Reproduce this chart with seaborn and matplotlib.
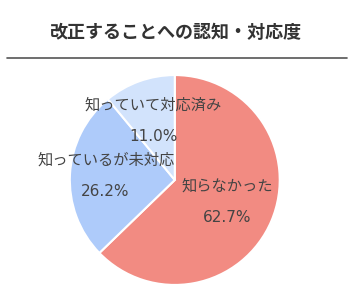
import matplotlib
matplotlib.use("Agg")
import matplotlib.pyplot as plt
import seaborn as sns
import numpy as np

categories = ["知らなかった", "知っているが未対応", "知っていて対応済み"]
values = [62.7, 26.2, 11.0]
colors = ["#F28B82", "#AECBFA", "#D2E3FC"]
title = "改正することへの認知・対応度"

sns.set_theme(style="white")
plt.rcParams['font.family'] = ['Noto Sans CJK JP', 'DejaVu Sans']

fig = plt.figure(figsize=(3.6, 3.0), dpi=100)
fig.patch.set_facecolor("white")
ax = fig.add_axes([0.194, 0.05, 0.583, 0.7])
wedges, _ = ax.pie(values, colors=colors, startangle=90, counterclock=False,
                   wedgeprops=dict(edgecolor="white", linewidth=1.5))
ax.set_xlim(-1, 1)
ax.set_ylim(-1, 1)
ax.set_aspect("equal")

label_r = [0.54, 0.66, 0.6]
for w, name, v, r in zip(wedges, categories, values, label_r):
    mid = np.deg2rad((w.theta1 + w.theta2) / 2)
    x, y = r * np.cos(mid), r * np.sin(mid)
    ax.text(x, y + 0.15, name, ha="center", va="center", fontsize=11, color="#444444")
    ax.text(x, y - 0.15, f"{v:.1f}%", ha="center", va="center", fontsize=11,
            color="#444444", family=["DejaVu Sans"])

fig.text(0.489, 0.89, title, ha="center", va="center", fontsize=13, fontweight="bold", color="#333333")
fig.add_artist(plt.Line2D([7/360, 347/360], [1-58/300, 1-58/300], color="#555555", linewidth=1.2))

fig.savefig("out.png", dpi=100, facecolor="white")
